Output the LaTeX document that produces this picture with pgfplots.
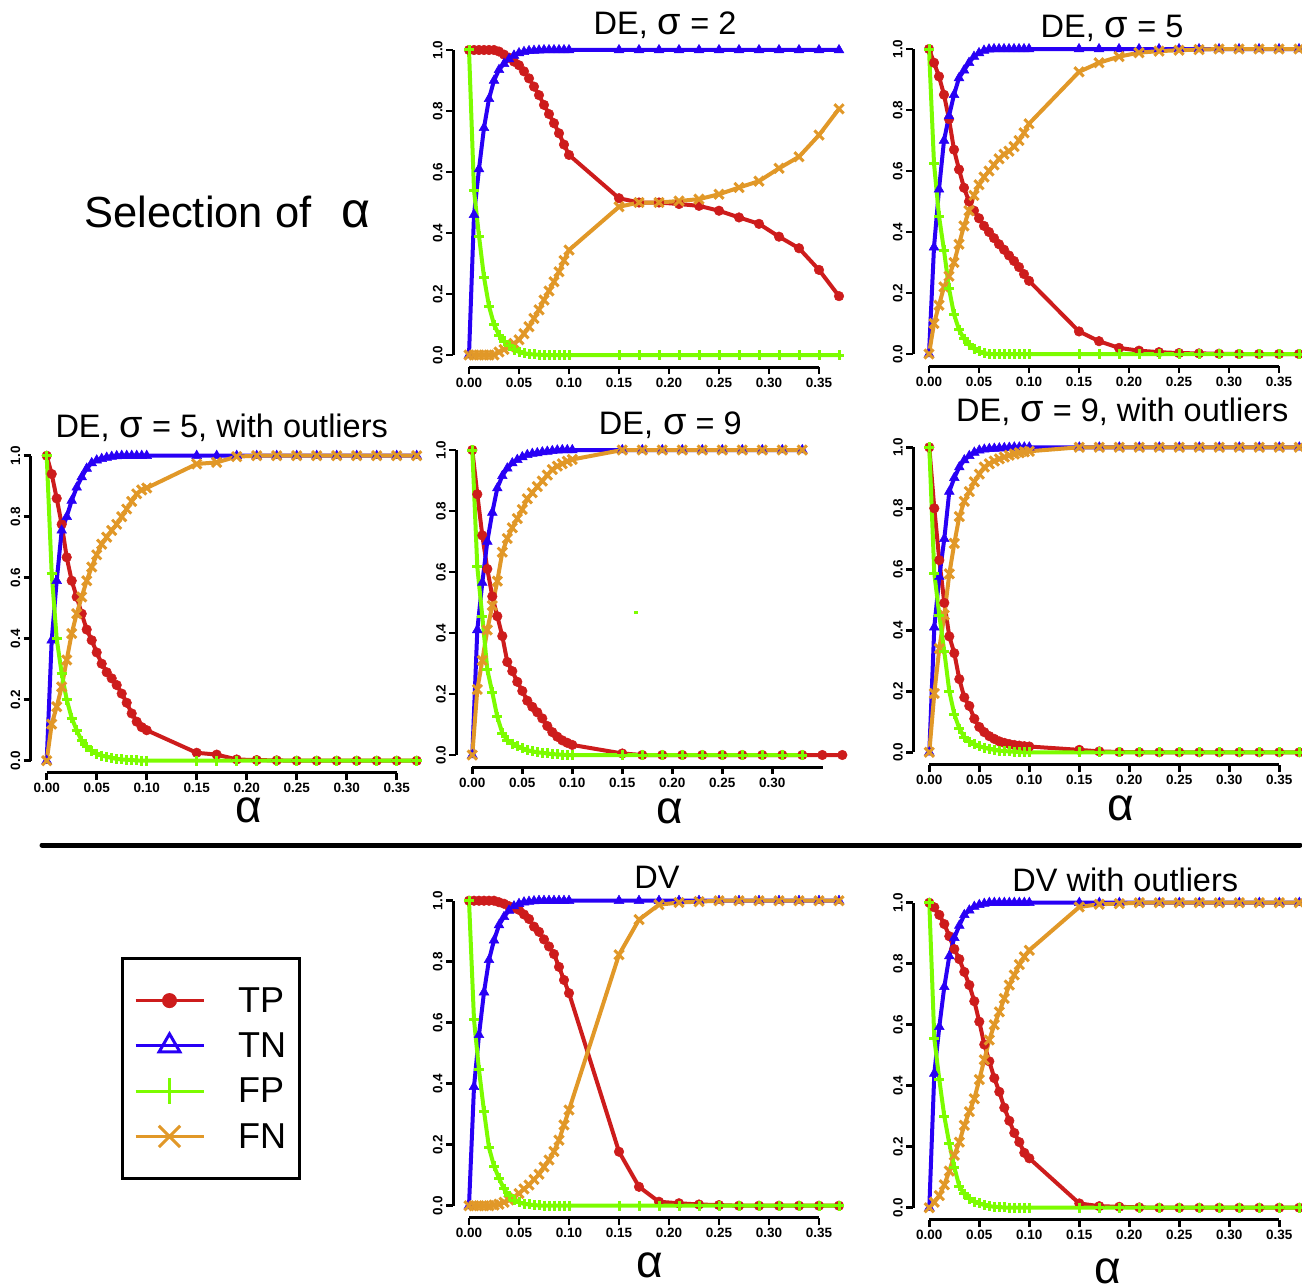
\documentclass[border=0pt]{standalone}
\usepackage{fontspec}
\setmainfont{Liberation Sans}
\usepackage{pgfplots}
\usepackage{pgfplotstable}
\pgfplotsset{compat=1.18}
\definecolor{cTP}{RGB}{205,28,28}
\definecolor{cTN}{RGB}{40,0,245}
\definecolor{cFP}{RGB}{124,252,0}
\definecolor{cFN}{RGB}{225,152,40}

% DE, sigma = 2
\pgfplotstableread{
x tp tn fp fn
0.000 1.000 0.000 1.000 0.000
0.005 1.000 0.460 0.540 0.000
0.010 1.000 0.610 0.390 0.000
0.015 1.000 0.745 0.255 0.000
0.020 1.000 0.840 0.160 0.000
0.025 1.000 0.900 0.100 0.000
0.030 0.995 0.935 0.065 0.010
0.035 0.985 0.955 0.045 0.018
0.040 0.975 0.970 0.030 0.027
0.045 0.962 0.982 0.018 0.038
0.050 0.950 0.990 0.010 0.050
0.055 0.930 0.994 0.006 0.070
0.060 0.907 0.997 0.003 0.093
0.065 0.880 0.998 0.002 0.120
0.070 0.852 0.999 0.001 0.148
0.075 0.820 1.000 0.000 0.180
0.080 0.790 1.000 0.000 0.210
0.085 0.760 1.000 0.000 0.240
0.090 0.727 1.000 0.000 0.273
0.095 0.690 1.000 0.000 0.310
0.100 0.656 1.000 0.000 0.344
0.150 0.514 1.000 0.000 0.486
0.170 0.500 1.000 0.000 0.500
0.190 0.500 1.000 0.000 0.500
0.210 0.495 1.000 0.000 0.505
0.230 0.489 1.000 0.000 0.511
0.250 0.473 1.000 0.000 0.527
0.270 0.451 1.000 0.000 0.549
0.290 0.430 1.000 0.000 0.570
0.310 0.388 1.000 0.000 0.612
0.330 0.350 1.000 0.000 0.650
0.350 0.279 1.000 0.000 0.721
0.370 0.193 1.000 0.000 0.807
}\dA

% DE, sigma = 5
\pgfplotstableread{
x tp tn fp fn
0.000 1.000 0.000 1.000 0.000
0.005 0.955 0.350 0.625 0.100
0.010 0.910 0.540 0.452 0.160
0.015 0.850 0.700 0.340 0.220
0.020 0.770 0.780 0.215 0.255
0.025 0.670 0.850 0.130 0.300
0.030 0.605 0.905 0.080 0.360
0.035 0.545 0.930 0.050 0.420
0.040 0.500 0.955 0.030 0.470
0.045 0.470 0.975 0.017 0.520
0.050 0.445 0.987 0.009 0.555
0.055 0.420 0.995 0.003 0.580
0.060 0.400 0.999 0.000 0.600
0.065 0.380 1.000 0.000 0.620
0.070 0.360 1.000 0.000 0.640
0.075 0.342 1.000 0.000 0.655
0.080 0.323 1.000 0.000 0.665
0.085 0.305 1.000 0.000 0.680
0.090 0.285 1.000 0.000 0.700
0.095 0.262 1.000 0.000 0.725
0.100 0.240 1.000 0.000 0.755
0.150 0.074 1.000 0.000 0.925
0.170 0.042 1.000 0.000 0.955
0.190 0.020 1.000 0.000 0.975
0.210 0.011 1.000 0.000 0.988
0.230 0.006 1.000 0.000 0.993
0.250 0.003 1.000 0.000 0.996
0.270 0.002 1.000 0.000 0.998
0.290 0.001 1.000 0.000 1.000
0.310 0.000 1.000 0.000 1.000
0.330 0.000 1.000 0.000 1.000
0.350 0.000 1.000 0.000 1.000
0.370 0.000 1.000 0.000 1.000
}\dB

% DE, sigma = 5, with outliers
\pgfplotstableread{
x tp tn fp fn
0.000 1.000 0.000 1.000 0.000
0.005 0.940 0.395 0.613 0.120
0.010 0.860 0.590 0.400 0.177
0.015 0.775 0.755 0.286 0.242
0.020 0.667 0.800 0.200 0.330
0.025 0.590 0.853 0.140 0.417
0.030 0.537 0.896 0.100 0.482
0.035 0.482 0.930 0.065 0.537
0.040 0.430 0.958 0.045 0.590
0.045 0.395 0.976 0.032 0.635
0.050 0.355 0.985 0.023 0.675
0.055 0.318 0.990 0.017 0.710
0.060 0.290 0.994 0.013 0.733
0.065 0.270 0.997 0.009 0.755
0.070 0.248 0.999 0.006 0.775
0.075 0.220 1.000 0.004 0.800
0.080 0.190 1.000 0.003 0.825
0.085 0.155 1.000 0.002 0.850
0.090 0.128 1.000 0.001 0.875
0.095 0.110 1.000 0.000 0.888
0.100 0.100 1.000 0.000 0.894
0.150 0.026 1.000 0.000 0.973
0.170 0.020 1.000 0.000 0.978
0.190 0.004 1.000 0.000 0.997
0.210 0.002 1.000 0.000 1.000
0.230 0.001 1.000 0.000 1.000
0.250 0.000 1.000 0.000 1.000
0.270 0.000 1.000 0.000 1.000
0.290 0.000 1.000 0.000 1.000
0.310 0.000 1.000 0.000 1.000
0.330 0.000 1.000 0.000 1.000
0.350 0.000 1.000 0.000 1.000
0.370 0.000 1.000 0.000 1.000
}\dC

% DE, sigma = 9
\pgfplotstableread{
x tp tn fp fn
0.000 1.000 0.000 1.000 0.000
0.005 0.855 0.410 0.617 0.215
0.010 0.720 0.565 0.454 0.310
0.015 0.610 0.700 0.280 0.410
0.020 0.520 0.795 0.205 0.490
0.025 0.455 0.875 0.125 0.570
0.030 0.390 0.915 0.072 0.665
0.035 0.305 0.940 0.048 0.710
0.040 0.275 0.957 0.037 0.745
0.045 0.240 0.968 0.029 0.775
0.050 0.210 0.977 0.022 0.805
0.055 0.178 0.984 0.016 0.840
0.060 0.158 0.988 0.012 0.860
0.065 0.140 0.990 0.009 0.880
0.070 0.120 0.993 0.007 0.898
0.075 0.095 0.995 0.005 0.918
0.080 0.075 0.997 0.003 0.936
0.085 0.060 0.999 0.002 0.947
0.090 0.048 1.000 0.001 0.955
0.095 0.040 1.000 0.000 0.963
0.100 0.033 1.000 0.000 0.969
0.150 0.005 1.000 0.000 1.000
0.170 0.000 1.000 0.000 1.000
0.190 0.000 1.000 0.000 1.000
0.210 0.000 1.000 0.000 1.000
0.230 0.000 1.000 0.000 1.000
0.250 0.000 1.000 0.000 1.000
0.270 0.000 1.000 0.000 1.000
0.290 0.000 1.000 0.000 1.000
0.310 0.000 1.000 0.000 1.000
0.330 0.000 1.000 0.000 1.000
0.350 0.000 nan nan nan
0.370 0.000 nan nan nan
}\dD

% DE, sigma = 9, with outliers
\pgfplotstableread{
x tp tn fp fn
0.000 1.000 0.000 1.000 0.000
0.005 0.800 0.410 0.587 0.193
0.010 0.630 0.576 0.450 0.340
0.015 0.490 0.700 0.330 0.450
0.020 0.380 0.855 0.200 0.585
0.025 0.325 0.900 0.125 0.685
0.030 0.240 0.935 0.078 0.773
0.035 0.180 0.958 0.050 0.823
0.040 0.152 0.972 0.035 0.855
0.045 0.110 0.983 0.027 0.887
0.050 0.083 0.990 0.020 0.912
0.055 0.066 0.993 0.015 0.935
0.060 0.053 0.995 0.011 0.946
0.065 0.044 0.996 0.008 0.955
0.070 0.036 0.997 0.005 0.962
0.075 0.031 0.998 0.004 0.968
0.080 0.027 0.999 0.003 0.974
0.085 0.024 1.000 0.002 0.978
0.090 0.022 1.000 0.001 0.982
0.095 0.020 1.000 0.000 0.985
0.100 0.019 1.000 0.000 0.987
0.150 0.008 1.000 0.000 1.000
0.170 0.003 1.000 0.000 1.000
0.190 0.001 1.000 0.000 1.000
0.210 0.000 1.000 0.000 1.000
0.230 0.000 1.000 0.000 1.000
0.250 0.000 1.000 0.000 1.000
0.270 0.000 1.000 0.000 1.000
0.290 0.000 1.000 0.000 1.000
0.310 0.000 1.000 0.000 1.000
0.330 0.000 1.000 0.000 1.000
0.350 0.000 1.000 0.000 1.000
0.370 0.000 1.000 0.000 1.000
}\dE

% DV
\pgfplotstableread{
x tp tn fp fn
0.000 1.000 0.000 1.000 0.000
0.005 1.000 0.390 0.610 0.000
0.010 1.000 0.560 0.445 0.000
0.015 1.000 0.700 0.310 0.000
0.020 1.000 0.806 0.190 0.000
0.025 1.000 0.870 0.130 0.002
0.030 0.995 0.920 0.090 0.005
0.035 0.990 0.947 0.055 0.011
0.040 0.982 0.968 0.032 0.019
0.045 0.976 0.982 0.018 0.028
0.050 0.970 0.990 0.011 0.040
0.055 0.955 0.995 0.006 0.055
0.060 0.940 0.997 0.004 0.068
0.065 0.915 0.999 0.002 0.086
0.070 0.898 1.000 0.001 0.103
0.075 0.873 1.000 0.000 0.127
0.080 0.850 1.000 0.000 0.150
0.085 0.825 1.000 0.000 0.178
0.090 0.783 1.000 0.000 0.215
0.095 0.740 1.000 0.000 0.265
0.100 0.697 1.000 0.000 0.314
0.150 0.177 1.000 0.000 0.823
0.170 0.062 1.000 0.000 0.938
0.190 0.013 1.000 0.000 0.987
0.210 0.008 1.000 0.000 0.994
0.230 0.004 1.000 0.000 0.997
0.250 0.002 1.000 0.000 1.000
0.270 0.000 1.000 0.000 1.000
0.290 0.000 1.000 0.000 1.000
0.310 0.000 1.000 0.000 1.000
0.330 0.000 1.000 0.000 1.000
0.350 0.000 1.000 0.000 1.000
0.370 0.000 1.000 0.000 1.000
}\dF

% DV with outliers
\pgfplotstableread{
x tp tn fp fn
0.000 1.000 0.000 1.000 0.000
0.005 0.985 0.440 0.555 0.018
0.010 0.960 0.593 0.420 0.040
0.015 0.930 0.724 0.300 0.075
0.020 0.890 0.825 0.210 0.120
0.025 0.848 0.885 0.133 0.172
0.030 0.815 0.925 0.070 0.215
0.035 0.773 0.960 0.045 0.270
0.040 0.730 0.975 0.030 0.315
0.045 0.677 0.987 0.020 0.357
0.050 0.610 0.993 0.014 0.420
0.055 0.535 0.997 0.009 0.485
0.060 0.480 1.000 0.005 0.550
0.065 0.425 1.000 0.003 0.600
0.070 0.380 1.000 0.002 0.642
0.075 0.328 1.000 0.001 0.686
0.080 0.285 1.000 0.000 0.730
0.085 0.245 1.000 0.000 0.763
0.090 0.215 1.000 0.000 0.797
0.095 0.180 1.000 0.000 0.823
0.100 0.162 1.000 0.000 0.844
0.150 0.014 1.000 0.000 0.986
0.170 0.005 1.000 0.000 0.995
0.190 0.003 1.000 0.000 0.997
0.210 0.001 1.000 0.000 1.000
0.230 0.000 1.000 0.000 1.000
0.250 0.000 1.000 0.000 1.000
0.270 0.000 1.000 0.000 1.000
0.290 0.000 1.000 0.000 1.000
0.310 0.000 1.000 0.000 1.000
0.330 0.000 1.000 0.000 1.000
0.350 0.000 1.000 0.000 1.000
0.370 0.000 1.000 0.000 1.000
}\dG

\newcommand{\tfont}{\fontsize{32.5}{36}\selectfont}
\newcommand{\sig}{{\fontsize{38}{38}\selectfont σ}}
\newcommand{\alab}{\fontsize{46}{48}\selectfont}

\tikzset{alphalab/.style={anchor=base, inner sep=0pt, text height=20pt, text depth=0pt, font=\alab}}

\pgfplotsset{
  rpanel/.style={
    scale only axis, width=400pt, height=335.5pt,
    xmin=-0.016, xmax=0.384, ymin=-0.04, ymax=1.06,
    axis lines*=left, axis line style={draw=none},
    clip=false, anchor=south west,
    tick align=outside, major tick length=7pt,
    tick style={black, line width=2.5pt},
    xtick={0,0.05,0.1,0.15,0.2,0.25,0.3,0.35},
    xticklabels={0.00,0.05,0.10,0.15,0.20,0.25,0.30,0.35},
    ytick={0,0.2,0.4,0.6,0.8,1},
    yticklabels={0.0,0.2,0.4,0.6,0.8,1.0},
    ticklabel style={font=\fontsize{13.5}{15}\selectfont\bfseries},
    yticklabel style={rotate=90, anchor=south},
    xticklabel style={anchor=north},
  },
  tp/.style={cTP, line width=4pt, mark=*, mark size=4.8pt, mark options={solid, draw=cTP, fill=cTP, line width=0.5pt}},
  tn/.style={cTN, line width=4pt, mark=triangle*, mark size=5.6pt, mark options={solid, draw=cTN, fill=cTN, line width=0.5pt}},
  fp/.style={cFP, line width=4pt, mark=+, mark size=5pt, mark options={solid, line width=3pt}},
  fn/.style={cFN, line width=4pt, mark=x, mark size=6.5pt, mark options={solid, line width=3pt}},
}

\newcommand{\fourplots}[1]{%
  \addplot[tp] table[x=x,y=tp]{#1};
  \addplot[tn] table[x=x,y=tn]{#1};
  \addplot[fn] table[x=x,y=fn]{#1};
  \addplot[fp] table[x=x,y=fp]{#1};
  \draw[black, line width=3pt] (axis cs:-0.016,0) -- (axis cs:-0.016,1);
}

\begin{document}
\begin{tikzpicture}
\useasboundingbox (0,0) rectangle (1302pt,-1287pt);

\node[anchor=base west, inner sep=0pt] at (84pt,-227pt) {\fontsize{43.5}{46}\selectfont Selection of};
\node[anchor=center, inner sep=0pt] at (356pt,-214pt) {\fontsize{50}{50}\selectfont α};

\draw[black, line width=5pt, line cap=round] (42pt,-845pt) -- (1300pt,-845pt);

% A: DE sigma=2
\begin{axis}[rpanel, at={(453pt,-367.2pt)}]
\fourplots{\dA}
\draw[black, line width=3pt] (axis cs:0,-0.04) -- (axis cs:0.35,-0.04);
\node[font=\tfont] at (axis cs:0.196,1.082) {DE,\hspace{10pt}\sig\ = 2};
\end{axis}

% B: DE sigma=5
\begin{axis}[rpanel, at={(913pt,-366.2pt)}]
\fourplots{\dB}
\draw[black, line width=3pt] (axis cs:0,-0.04) -- (axis cs:0.35,-0.04);
\node[font=\tfont] at (axis cs:0.183,1.069) {DE,\hspace{10pt}\sig\ = 5};
\end{axis}

% C: DE sigma=5 with outliers
\begin{axis}[rpanel, at={(30.7pt,-772.9pt)}]
\fourplots{\dC}
\draw[black, line width=3pt] (axis cs:0,-0.04) -- (axis cs:0.35,-0.04);
\node[font=\tfont] at (axis cs:0.175,1.091) {DE,\hspace{10pt}\sig\ = 5, with outliers};
\node[alphalab] at (axis cs:0.202,-0.204) {α};
\end{axis}

% D: DE sigma=9
\begin{axis}[rpanel, at={(456.3pt,-767.2pt)},
  xtick={0,0.05,0.1,0.15,0.2,0.25,0.3},
  xticklabels={0.00,0.05,0.10,0.15,0.20,0.25,0.30}]
\fourplots{\dD}
\addplot[cFP, line width=3pt, forget plot] coordinates {(0.1615,0.468) (0.1655,0.468)};
\draw[black, line width=3pt] (axis cs:0,-0.04) -- (axis cs:0.351,-0.04);
\node[font=\tfont] at (axis cs:0.198,1.082) {DE,\hspace{10pt}\sig\ = 9};
\node[alphalab] at (axis cs:0.197,-0.223) {α};
\end{axis}

% E: DE sigma=9 with outliers
\begin{axis}[rpanel, at={(913.3pt,-764.5pt)}]
\fourplots{\dE}
\draw[black, line width=3pt] (axis cs:0,-0.04) -- (axis cs:0.35,-0.04);
\node[font=\tfont] at (axis cs:0.193,1.116) {DE,\hspace{10pt}\sig\ = 9, with outliers};
\node[alphalab] at (axis cs:0.191,-0.225) {α};
\end{axis}

% F: DV
\begin{axis}[rpanel, at={(453pt,-1217.9pt)}]
\fourplots{\dF}
\draw[black, line width=3pt] (axis cs:0,-0.04) -- (axis cs:0.35,-0.04);
\node[font=\tfont] at (axis cs:0.188,1.078) {DV};
\node[alphalab] at (axis cs:0.181,-0.237) {α};
\end{axis}

% G: DV with outliers
\begin{axis}[rpanel, at={(913.3pt,-1219.9pt)}]
\fourplots{\dG}
\draw[black, line width=3pt] (axis cs:0,-0.04) -- (axis cs:0.35,-0.04);
\node[font=\tfont] at (axis cs:0.196,1.074) {DV with outliers};
\node[alphalab] at (axis cs:0.178,-0.250) {α};
\end{axis}

% Legend
\begin{axis}[at={(122pt,-1180pt)}, anchor=south west, scale only axis,
  width=178pt, height=223pt, hide axis, xmin=0, xmax=1, ymin=0, ymax=1,
  legend cell align=left,
  legend style={at={(0.5,0.5)}, anchor=center, draw=black, line width=3pt,
    font=\fontsize{36}{40}\selectfont, inner xsep=12pt, inner ysep=27pt,
    row sep=15pt, column sep=31pt},
  legend image code/.code={\draw[mark repeat=2,mark phase=2,#1] plot coordinates {(0pt,0pt) (34pt,0pt) (68pt,0pt)};}
]
\addlegendimage{cTP, line width=3pt, mark=*, mark size=6pt, mark options={solid, fill=cTP}}
\addlegendentry{TP}
\addlegendimage{cTN, line width=3pt, mark=triangle, mark size=12pt, mark options={solid, line width=3pt}}
\addlegendentry{TN}
\addlegendimage{cFP, line width=3pt, mark=|, mark size=13pt, mark options={solid, line width=3pt}}
\addlegendentry{FP}
\addlegendimage{cFN, line width=3pt, mark=x, mark size=15pt, mark options={solid, line width=3pt}}
\addlegendentry{FN}
\end{axis}
\end{tikzpicture}
\end{document}
